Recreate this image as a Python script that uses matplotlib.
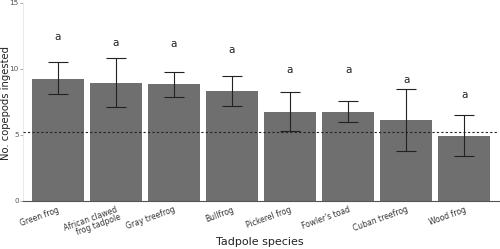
import matplotlib.pyplot as plt

# tadpole species and mean copepods ingested
species = ['Green frog', 'African clawed\nfrog tadpole', 'Gray treefrog', 'Bullfrog',
           'Pickerel frog', "Fowler's toad", 'Cuban treefrog', 'Wood frog']
means = [9.25, 8.96, 8.84, 8.33, 6.74, 6.74, 6.14, 4.92]
upper = [10.5, 10.8, 9.8, 9.45, 8.26, 7.58, 8.46, 6.49]
lower = [8.1, 7.15, 7.85, 7.2, 5.28, 5.96, 3.76, 3.43]
letters = ['a'] * 8
letter_y = [12.4, 12.0, 11.9, 11.4, 9.9, 9.9, 9.2, 8.0]
ref_line = 5.25

fig = plt.figure(figsize=(5, 2.49), dpi=100)
ax = fig.add_axes([0.046, 0.193, 0.952, 0.795])

x = list(range(1, len(species) + 1))
ax.bar(x, means, width=0.9, color='#6f6f6f', zorder=2)
err = [[m - l for m, l in zip(means, lower)], [u - m for m, u in zip(means, upper)]]
ax.errorbar(x, means, yerr=err, fmt='none', ecolor='#222222', elinewidth=0.8,
            capsize=7, capthick=0.8, zorder=3)
ax.axhline(ref_line, color='#222222', linestyle=(0, (2, 2)), linewidth=0.8, zorder=4)

for xi, yi, t in zip(x, letter_y, letters):
    ax.text(xi, yi, t, ha='center', va='center', fontsize=7.5, color='#222222')

ax.set_xlim(0.4, 8.6)
ax.set_ylim(0, 15)
ax.set_yticks([0, 5, 10, 15])
ax.set_xticks(x)
ax.set_xticklabels(species, rotation=20, ha='right', rotation_mode='anchor',
                   fontsize=5.5, color='#333333', linespacing=0.9)
ax.tick_params(axis='y', labelsize=5.2, labelcolor='#555555', length=2,
               color='#999999', width=0.6, pad=1)
ax.tick_params(axis='x', length=0, pad=3)

for s in ['top', 'right']:
    ax.spines[s].set_visible(False)
ax.spines['left'].set_color('#e6e6e6')
ax.spines['left'].set_linewidth(0.6)
ax.spines['bottom'].set_color('#555555')
ax.spines['bottom'].set_linewidth(0.8)

# axis titles placed in figure coords so they fit the small canvas
fig.text(0.52, 0.028, 'Tadpole species', ha='center', va='center',
         fontsize=8, color='#222222')
fig.text(0.012, 0.585, 'No. copepods ingested', ha='center', va='center',
         rotation=90, fontsize=7.2, color='#222222')

fig.savefig('out.png', dpi=100)
